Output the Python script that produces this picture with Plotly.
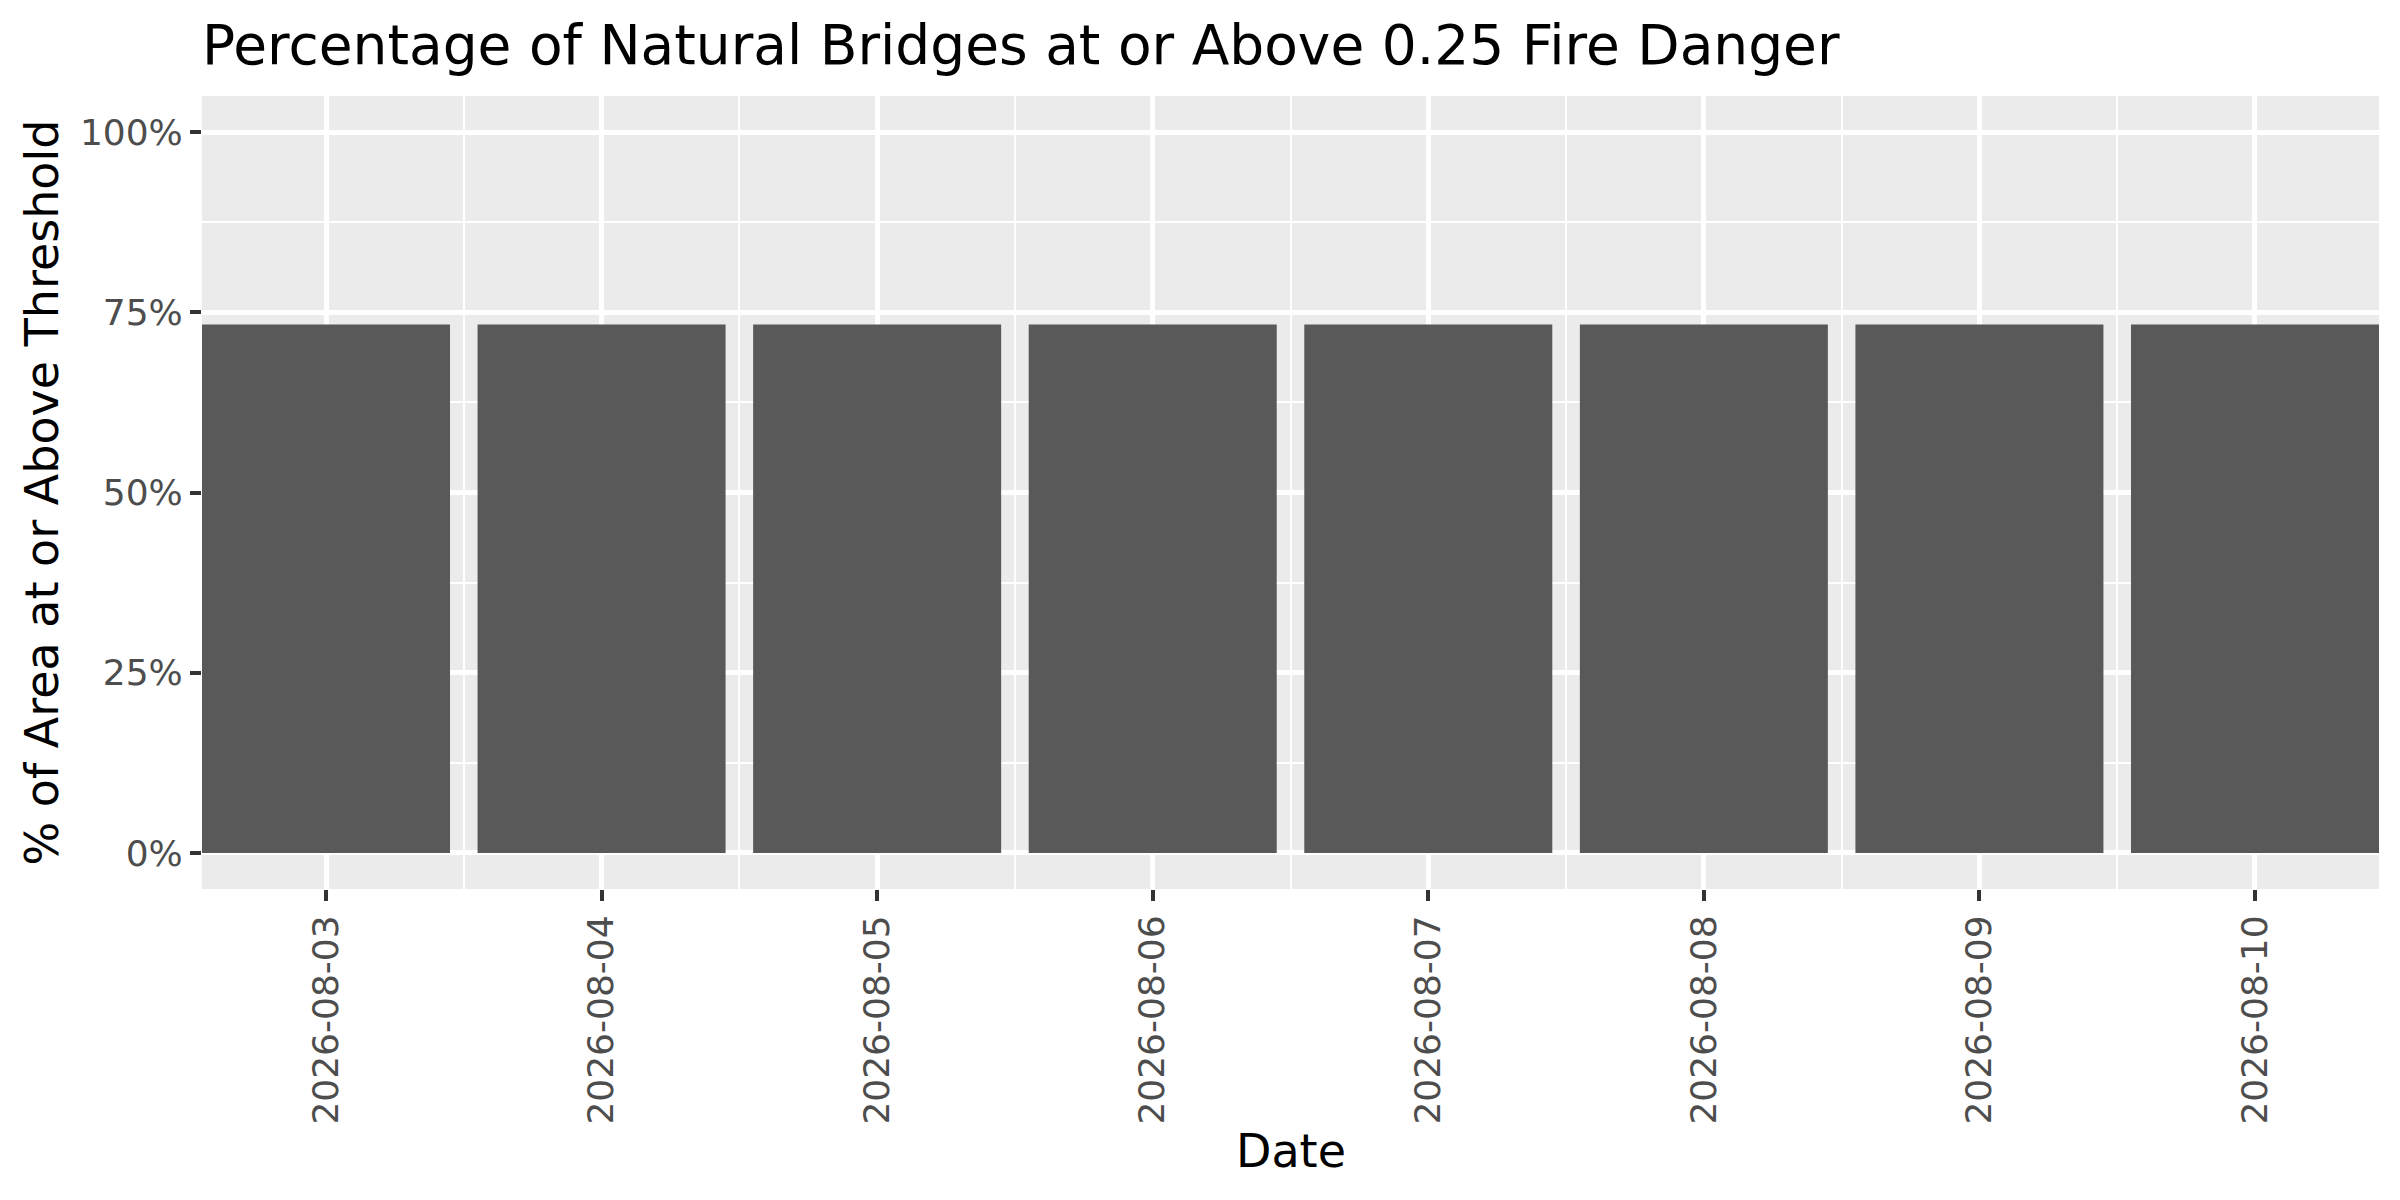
import plotly.graph_objects as go

DATES = [
    "2026-08-03",
    "2026-08-04",
    "2026-08-05",
    "2026-08-06",
    "2026-08-07",
    "2026-08-08",
    "2026-08-09",
    "2026-08-10",
]
PCT_ABOVE = [73.3, 73.3, 73.3, 73.3, 73.3, 73.3, 73.3, 73.3]
Y_TICKS = [0, 25, 50, 75, 100]
Y_TICK_LABELS = ["0%", "25%", "50%", "75%", "100%"]

DAY_MS = 86400000
FONT = "DejaVu Sans"
PANEL_BG = "#EBEBEB"

fig = go.Figure(
    go.Bar(
        x=DATES,
        y=PCT_ABOVE,
        width=0.9 * DAY_MS,
        marker=dict(color="#595959", line=dict(width=0)),
    )
)

fig.update_layout(
    width=2400,
    height=1200,
    margin=dict(l=194, r=29, t=88, b=319),
    paper_bgcolor="white",
    plot_bgcolor=PANEL_BG,
    showlegend=False,
    font=dict(family=FONT, color="#4D4D4D", size=36),
    title=dict(
        text="Percentage of Natural Bridges at or Above 0.25 Fire Danger",
        font=dict(family=FONT, size=55, color="black"),
        xref="paper",
        x=0,
        xanchor="left",
        yref="container",
        y=1 - 37 / 1200,
        yanchor="middle",
    ),
)

fig.update_xaxes(
    type="date",
    range=["2026-08-02 13:12", "2026-08-10 10:48"],
    tickvals=DATES,
    ticktext=DATES,
    tickangle=-90,
    ticks="outside",
    ticklen=11,
    tickwidth=4,
    tickcolor="#333333",
    tickfont=dict(size=36, color="#4D4D4D"),
    showgrid=True,
    gridcolor="white",
    gridwidth=4.5,
    minor=dict(
        tick0="2026-08-03 12:00",
        dtick=DAY_MS,
        showgrid=True,
        gridcolor="white",
        gridwidth=2.2,
        ticks="",
    ),
    zeroline=False,
    showline=False,
)

fig.update_yaxes(
    range=[-5, 105],
    tickvals=Y_TICKS,
    ticktext=Y_TICK_LABELS,
    ticks="outside",
    ticklen=11,
    tickwidth=4,
    tickcolor="#333333",
    tickfont=dict(size=36, color="#4D4D4D"),
    showgrid=True,
    gridcolor="white",
    gridwidth=4.5,
    minor=dict(
        tick0=12.5,
        dtick=25,
        showgrid=True,
        gridcolor="white",
        gridwidth=2.2,
        ticks="",
    ),
    zeroline=False,
    showline=False,
)

# axis titles placed as annotations to match the ggplot layout
fig.add_annotation(
    text="Date",
    xref="paper",
    yref="paper",
    x=0.5,
    y=0,
    xanchor="center",
    yanchor="middle",
    yshift=-262,
    showarrow=False,
    font=dict(family=FONT, size=46, color="black"),
)
fig.add_annotation(
    text="% of Area at or Above Threshold",
    xref="paper",
    yref="paper",
    x=0,
    y=0.5,
    xanchor="center",
    yanchor="middle",
    xshift=-161,
    textangle=-90,
    showarrow=False,
    font=dict(family=FONT, size=46, color="black"),
)

fig.write_html("out.html")
